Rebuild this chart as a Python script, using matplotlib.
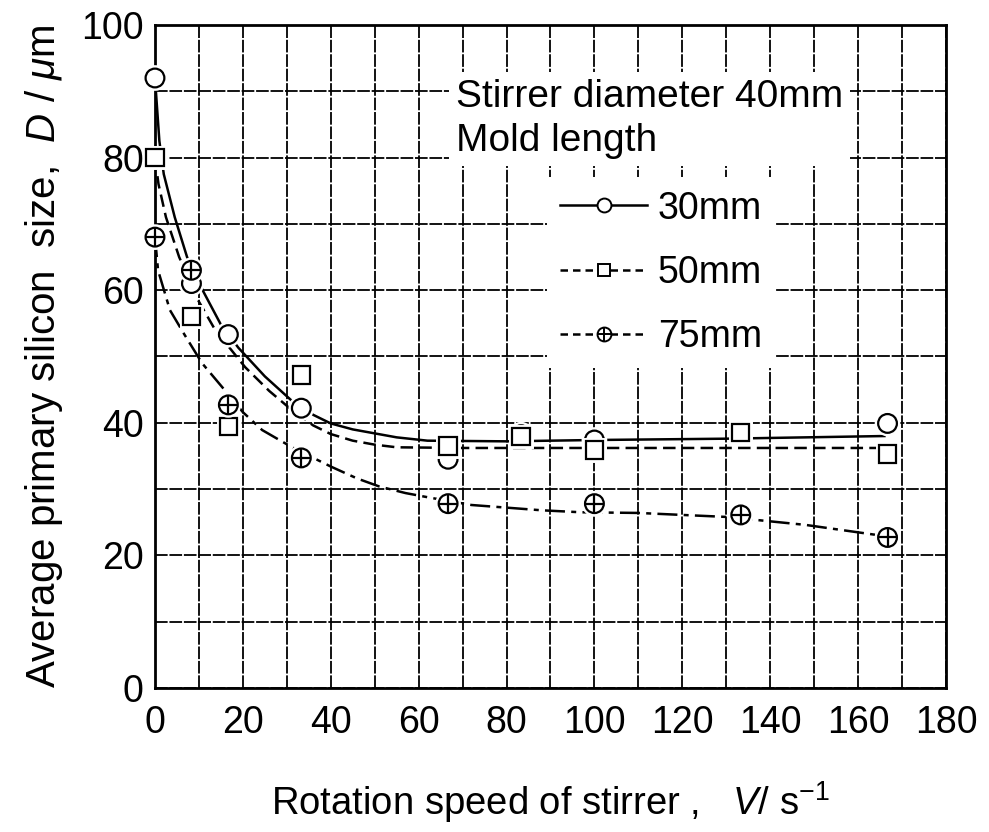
import matplotlib
matplotlib.use("Agg")
import matplotlib.pyplot as plt
import matplotlib.patheffects as pe
from matplotlib.ticker import MultipleLocator

plt.rcParams['font.family'] = ['Liberation Sans', 'DejaVu Sans']
plt.rcParams['mathtext.fontset'] = 'custom'
plt.rcParams['mathtext.rm'] = 'Liberation Sans'
plt.rcParams['mathtext.it'] = 'Liberation Sans:italic'

velocidad = [0, 8.3, 16.7, 33.3, 66.7, 83.3, 100, 133.3, 166.7]
d30 = [92, 61, 53.3, 42.2, 34.5, 38.2, 37.4, 38.6, 39.9]
d50 = [80, 56, 39.4, 47.2, 36.5, 37.9, 35.9, 38.5, 35.3]
velocidad75 = [0, 8.3, 16.7, 33.3, 66.7, 100, 133.3, 166.7]
d75 = [68, 63, 42.7, 34.7, 27.8, 27.8, 26.1, 22.7]

# curvas de ajuste (puntos leidos sobre las curvas dibujadas)
ajuste30_x = [0, 1, 2, 4.5, 7.3, 11, 15, 19, 25, 31, 36, 40, 45, 50, 55, 62, 80, 100, 130, 166]
ajuste30_y = [92, 82.5, 77.5, 71, 65, 59.8, 54.8, 51.3, 47, 43.4, 41.2, 39.9, 39.0, 38.4, 37.8, 37.3, 37.2, 37.4, 37.6, 38]
ajuste50_x = [0, 0.8, 2.5, 5.5, 9.8, 13.7, 20.5, 26, 31, 36, 40, 45, 50, 55, 70, 100, 166]
ajuste50_y = [80, 76, 71, 65, 58.5, 54, 48.4, 44.8, 42, 39.6, 38.3, 37.3, 36.7, 36.3, 36.2, 36.2, 36.2]
ajuste75_x = [0, 0.7, 3.4, 6.8, 10.7, 15.9, 20, 24.4, 31.2, 40, 46, 51, 57, 62.6, 72, 88, 97, 110, 130, 148, 164, 167]
ajuste75_y = [68, 63, 57, 53.2, 49, 44.9, 41.6, 38.9, 36.3, 33.4, 31.6, 30.4, 29.4, 28.7, 27.6, 26.8, 26.5, 26.4, 25.8, 24.6, 23.1, 22.8]

etiquetas = ['30mm', '50mm', '75mm']

fig = plt.figure(figsize=(9.89, 8.32), dpi=100)
ax = fig.add_axes([0.1567, 0.1731, 0.7998, 0.7969])
ax.set_xlim(0, 180)
ax.set_ylim(0, 100)

ax.xaxis.set_major_locator(MultipleLocator(20))
ax.xaxis.set_minor_locator(MultipleLocator(10))
ax.yaxis.set_major_locator(MultipleLocator(20))
ax.yaxis.set_minor_locator(MultipleLocator(10))
ax.grid(True, which='both', color='black', linewidth=1.3, linestyle=(0, (7, 1)), zorder=0)
ax.set_axisbelow(True)
ax.tick_params(which='both', length=0)
ax.tick_params(axis='x', labelsize=27, pad=12)
ax.tick_params(axis='y', labelsize=27, pad=8)
for s in ax.spines.values():
    s.set_linewidth(2)

halo = [pe.Stroke(linewidth=5, foreground='white'), pe.Normal()]

# curvas
ax.plot(ajuste30_x, ajuste30_y, '-', color='black', lw=1.8, zorder=2)
ax.plot(ajuste50_x, ajuste50_y, color='black', lw=1.8, linestyle=(0, (5, 2.5)), zorder=2)
ax.plot(ajuste75_x, ajuste75_y, color='black', lw=1.8, linestyle=(0, (8, 2.5, 2, 2.5)), zorder=2)

# puntos
ms = 13.5
ax.plot(velocidad, d30, 'o', ms=ms, mfc='white', mec='black', mew=1.6,
        path_effects=halo, zorder=4, clip_on=False)
ax.plot(velocidad, d50, 's', ms=ms - 1, mfc='white', mec='black', mew=1.6,
        path_effects=halo, zorder=4, clip_on=False)
ax.plot(velocidad75, d75, 'o', ms=ms, mfc='white', mec='black', mew=1.6,
        path_effects=halo, zorder=4, clip_on=False)
ax.plot(velocidad75, d75, '+', ms=ms, mec='black', mew=1.6, zorder=5, clip_on=False)

# leyenda
h30, = ax.plot([], [], '-o', color='black', lw=1.8, ms=10, mfc='white', mew=1.4)
h50, = ax.plot([], [], 's', color='black', lw=1.8, ms=9, mfc='white', mew=1.4,
               linestyle=(0, (3, 2)))
h75a, = ax.plot([], [], 'o', color='black', lw=1.8, ms=10, mfc='white', mew=1.4,
                linestyle=(0, (3, 2)))
h75b, = ax.plot([], [], '+', color='black', ms=10, mew=1.4, linestyle='none')
leg = ax.legend([h30, h50, (h75a, h75b)], etiquetas, loc='upper left',
                bbox_to_anchor=(0.496, 0.770), fontsize=27, frameon=True,
                handlelength=2.3, handletextpad=0.3, labelspacing=0.75,
                borderpad=0.35, borderaxespad=0, fancybox=False)
leg.get_frame().set_facecolor('white')
leg.get_frame().set_edgecolor('none')
leg.get_frame().set_alpha(1)
leg.set_zorder(6)

ax.text(68.5, 85.8, 'Stirrer diameter 40mm\nMold length', fontsize=28,
        ha='left', va='center', linespacing=1.3, zorder=6,
        bbox=dict(facecolor='white', edgecolor='none', pad=5))

ax.set_xlabel('Rotation speed of stirrer ,   $V$/ s$^{-1}$', fontsize=27.5, labelpad=28)
ax.set_ylabel('Average primary silicon  size,  $D$ / $\\mu$m', fontsize=29, labelpad=12)

fig.savefig('out.png', dpi=100)
